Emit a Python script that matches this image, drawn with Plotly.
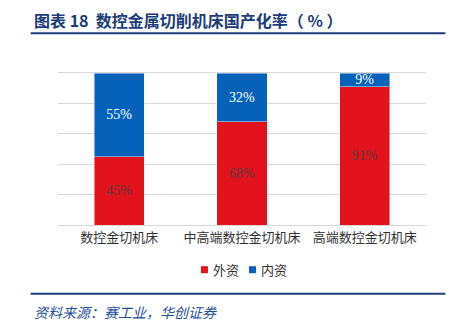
import plotly.graph_objects as go

# Localisation rate of CNC metal-cutting machine tools (%)
categories = ["数控金切机床", "中高端数控金切机床", "高端数控金切机床"]
foreign_share = [45, 68, 91]   # 外资
domestic_share = [55, 32, 9]   # 内资
series_names = ["外资", "内资"]

W, H = 462, 325
PLOT_L, PLOT_R, PLOT_T, PLOT_B = 58.3, 425.7, 73.3, 225.3

RED = "#E3131E"
BLUE = "#0562B8"
NAVY = "#1B3C78"
GRID = "#D9D9D9"
CJK = "Noto Sans CJK SC"
SERIF = "Liberation Serif"
COLORS = [RED, BLUE]


def px_x(x):
    return (x - PLOT_L) / (PLOT_R - PLOT_L)


def px_y(y):
    return (PLOT_B - y) / (PLOT_B - PLOT_T)


fig = go.Figure()
for name, vals, col, tcol in zip(series_names, [foreign_share, domestic_share],
                                 COLORS, ["#5a3a3a", "white"]):
    fig.add_trace(go.Bar(
        x=categories, y=vals, name=name,
        marker=dict(color=col, line=dict(color="rgba(255,255,255,0.45)", width=1)),
        texttemplate="%{y}%", textposition="inside", insidetextanchor="middle",
        constraintext="none",
        textfont=dict(family=SERIF, size=14, color=tcol),
        showlegend=False,
    ))

fig.update_layout(
    width=W, height=H,
    margin=dict(l=PLOT_L, r=W - PLOT_R, t=PLOT_T, b=H - PLOT_B),
    paper_bgcolor="white", plot_bgcolor="white",
    barmode="stack", bargap=0.59,
    uniformtext=dict(mode="show", minsize=14),
    showlegend=False,
    xaxis=dict(
        showgrid=False, zeroline=False, ticks="",
        showline=True, mirror=True, linecolor=GRID, linewidth=1,
        tickfont=dict(family=CJK, size=13, color="#333333"),
        fixedrange=True,
    ),
    yaxis=dict(
        range=[0, 100], dtick=20, showticklabels=False,
        showgrid=True, gridcolor=GRID, gridwidth=1,
        zeroline=False, showline=False, ticks="", fixedrange=True,
    ),
)

# legend: small coloured squares with series names
legend_sq_x = [201, 249]
for name, col, sx in zip(series_names, COLORS, legend_sq_x):
    fig.add_shape(
        type="rect", xref="paper", yref="paper",
        x0=px_x(sx), x1=px_x(sx + 7), y0=px_y(273.5), y1=px_y(266.5),
        fillcolor=col, line=dict(width=0),
    )
    fig.add_annotation(
        text=name, xref="paper", yref="paper",
        x=px_x(sx + 10), y=px_y(270), xanchor="left", yanchor="middle",
        showarrow=False, font=dict(family=CJK, size=13, color="#333333"),
    )

# title and its rule
fig.add_annotation(
    text="<b>图表 18  数控金属切削机床国产化率（ % ）</b>",
    xref="paper", yref="paper", x=px_x(32), y=px_y(20),
    xanchor="left", yanchor="middle", showarrow=False,
    font=dict(family=CJK, size=16, color=NAVY),
)
fig.add_shape(
    type="line", xref="paper", yref="paper",
    x0=px_x(31), x1=px_x(445), y0=px_y(33.5), y1=px_y(33.5),
    line=dict(color=NAVY, width=2),
)

# source rule and note
fig.add_shape(
    type="line", xref="paper", yref="paper",
    x0=px_x(31), x1=px_x(445), y0=px_y(294), y1=px_y(294),
    line=dict(color=NAVY, width=2),
)
fig.add_annotation(
    text="资料来源：赛工业，华创证券",
    xref="paper", yref="paper", x=px_x(32), y=px_y(312),
    xanchor="left", yanchor="middle", showarrow=False,
    font=dict(family=CJK, size=14, color="#1F4E9A", style="italic"),
)

fig.write_html("out.html")
